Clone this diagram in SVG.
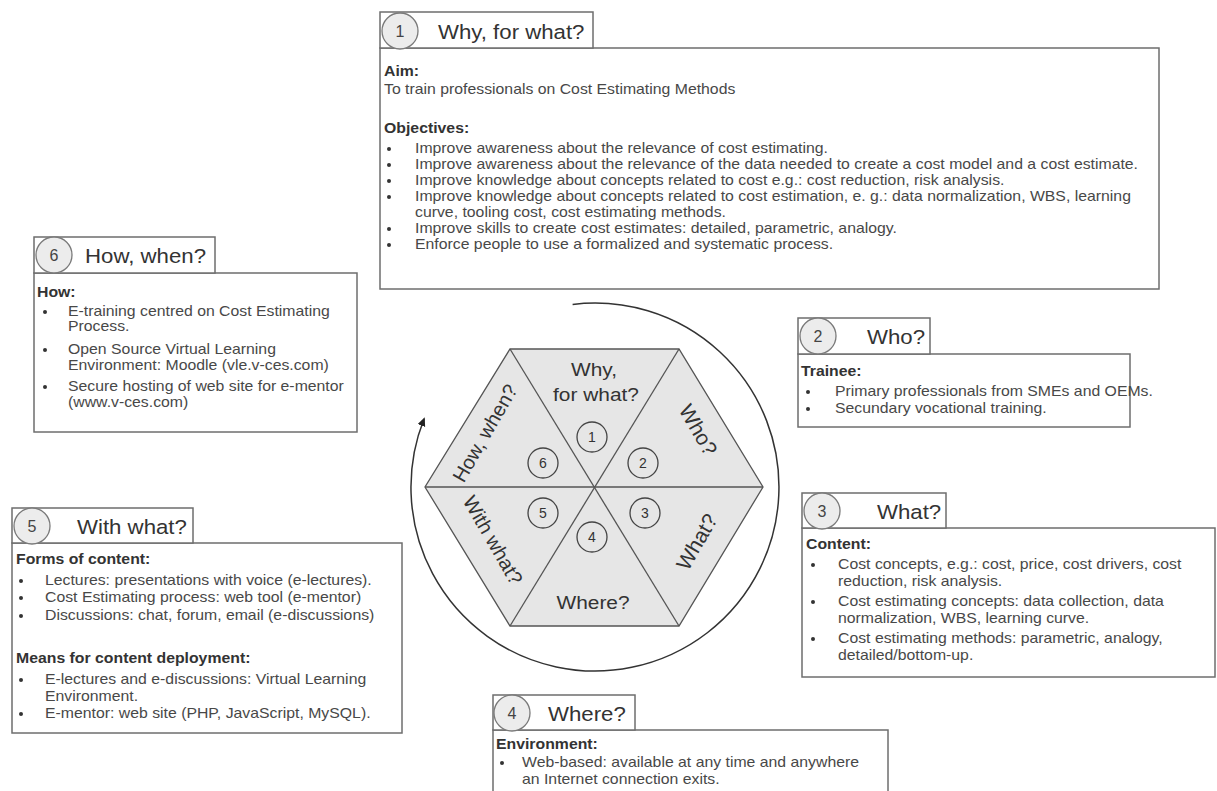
<svg xmlns="http://www.w3.org/2000/svg" width="1217" height="791" viewBox="0 0 1217 791">
<style>
.box{fill:#fff;stroke:#6e6e6e;stroke-width:1.5}
.tab{fill:#fff;stroke:#6e6e6e;stroke-width:1.5}
.num{fill:#ececec;stroke:#7a7a7a;stroke-width:1.3}
.numt{font-family:"Liberation Sans",Arial,sans-serif;font-size:16px;fill:#444;text-anchor:middle}
.title{font-family:"Liberation Sans",Arial,sans-serif;font-size:19.5px;fill:#333}
.t{font-family:"Liberation Sans",Arial,sans-serif;font-size:14px;fill:#484848}
.b{font-family:"Liberation Sans",Arial,sans-serif;font-size:14px;fill:#333;font-weight:bold}
.bul{fill:#333}
.hex{fill:#e6e6e6;stroke:#555;stroke-width:1.3}
.hl{stroke:#555;stroke-width:1.3;fill:none}
.hc{fill:none;stroke:#444;stroke-width:1.3}
.hn{font-family:"Liberation Sans",Arial,sans-serif;font-size:14px;fill:#333;text-anchor:middle}
.hlab{font-family:"Liberation Sans",Arial,sans-serif;font-size:18.5px;fill:#333;text-anchor:middle}
.rlab{font-family:"Liberation Sans",Arial,sans-serif;font-size:20px;fill:#333;text-anchor:middle}
</style>
<defs>
<marker id="ah" markerWidth="10" markerHeight="10" refX="7" refY="4" orient="auto" markerUnits="userSpaceOnUse">
<path d="M0,0 L9,4 L0,8 z" fill="#222"/>
</marker>
</defs>
<rect width="1217" height="791" fill="#fff"/>

<g id="connectors">
<path d="M 572.6 304.4 A 184 184 0 1 1 424 419" fill="none" stroke="#333" stroke-width="1.5" marker-end="url(#ah)"/>
</g>

<g id="hexagon">
<polygon class="hex" points="510,349 679,349 763,487 679,626 510,626 425,487"/>
<line class="hl" x1="510" y1="349" x2="679" y2="626"/>
<line class="hl" x1="679" y1="349" x2="510" y2="626"/>
<line class="hl" x1="425" y1="487" x2="763" y2="487"/>
<circle class="hc" cx="592" cy="437" r="15"/><text class="hn" x="592" y="442">1</text>
<circle class="hc" cx="643" cy="463" r="15"/><text class="hn" x="643" y="468">2</text>
<circle class="hc" cx="645" cy="513" r="15"/><text class="hn" x="645" y="518">3</text>
<circle class="hc" cx="592" cy="537" r="15"/><text class="hn" x="592" y="542">4</text>
<circle class="hc" cx="543" cy="513" r="15"/><text class="hn" x="543" y="518">5</text>
<circle class="hc" cx="543" cy="463" r="15"/><text class="hn" x="543" y="468">6</text>
<text class="hlab" transform="translate(594,376) scale(1.13,1)">Why,</text>
<text class="hlab" transform="translate(596,401) scale(1.13,1)">for what?</text>
<text class="hlab" transform="translate(593,609) scale(1.13,1)">Where?</text>
<text class="rlab" style="font-size:21px" transform="translate(698,430) rotate(60)" dy="7">Who?</text>
<text class="rlab" style="font-size:21px" transform="translate(697,542) rotate(-60)" dy="7">What?</text>
<text class="rlab" transform="translate(493,540) rotate(60)" dy="7">With what?</text>
<text class="rlab" transform="translate(485,433) rotate(-60)" dy="7">How, when?</text>
</g>

<g id="node1">
<rect class="box" x="380" y="48" width="779" height="241"/>
<rect class="tab" x="380" y="12" width="213" height="36"/>
<circle class="num" cx="400" cy="31" r="18"/>
<text class="numt" x="400" y="37">1</text>
<text class="title" transform="translate(438,39) scale(1.14,1)">Why, for what?</text>
<text class="b" transform="translate(384,76) scale(1.13,1)">Aim:</text>
<text class="t" transform="translate(384,94) scale(1.13,1)">To train professionals on Cost Estimating Methods</text>
<text class="b" transform="translate(384,133) scale(1.13,1)">Objectives:</text>
<circle class="bul" cx="389" cy="149" r="2"/>
<text class="t" transform="translate(415,153) scale(1.13,1)">Improve awareness about the relevance of cost estimating.</text>
<circle class="bul" cx="389" cy="165" r="2"/>
<text class="t" transform="translate(415,169) scale(1.13,1)">Improve awareness about the relevance of the data needed to create a cost model and a cost estimate.</text>
<circle class="bul" cx="389" cy="181" r="2"/>
<text class="t" transform="translate(415,185) scale(1.13,1)">Improve knowledge about concepts related to cost  e.g.: cost reduction, risk analysis.</text>
<circle class="bul" cx="389" cy="197" r="2"/>
<text class="t" transform="translate(415,201) scale(1.13,1)">Improve knowledge about concepts related to cost estimation, e. g.: data normalization, WBS, learning</text>
<text class="t" transform="translate(415,217) scale(1.13,1)">curve, tooling cost, cost estimating methods.</text>
<circle class="bul" cx="389" cy="229" r="2"/>
<text class="t" transform="translate(415,233) scale(1.13,1)">Improve skills to create cost estimates: detailed, parametric, analogy.</text>
<circle class="bul" cx="389" cy="245" r="2"/>
<text class="t" transform="translate(415,249) scale(1.13,1)">Enforce people to use a formalized and systematic process.</text>
</g>

<g id="node6">
<rect class="box" x="34" y="273" width="323" height="159"/>
<rect class="tab" x="34" y="237" width="181" height="36"/>
<circle class="num" cx="54" cy="255" r="18"/>
<text class="numt" x="54" y="261">6</text>
<text class="title" transform="translate(85,263) scale(1.14,1)">How, when?</text>
<text class="b" transform="translate(37,297) scale(1.13,1)">How:</text>
<circle class="bul" cx="45" cy="312" r="2"/>
<text class="t" transform="translate(68,316) scale(1.13,1)">E-training centred on Cost Estimating</text>
<text class="t" transform="translate(68,331) scale(1.13,1)">Process.</text>
<circle class="bul" cx="45" cy="350" r="2"/>
<text class="t" transform="translate(68,354) scale(1.13,1)">Open Source Virtual Learning</text>
<text class="t" transform="translate(68,370) scale(1.13,1)">Environment: Moodle (vle.v-ces.com)</text>
<circle class="bul" cx="45" cy="387" r="2"/>
<text class="t" transform="translate(68,391) scale(1.13,1)">Secure hosting of web site for e-mentor</text>
<text class="t" transform="translate(68,407) scale(1.13,1)">(www.v-ces.com)</text>
</g>

<g id="node2">
<rect class="box" x="798" y="354" width="332" height="73"/>
<rect class="tab" x="798" y="318" width="132" height="36"/>
<circle class="num" cx="818" cy="336" r="18"/>
<text class="numt" x="818" y="342">2</text>
<text class="title" transform="translate(867,344) scale(1.14,1)">Who?</text>
<text class="b" transform="translate(801,376) scale(1.13,1)">Trainee:</text>
<circle class="bul" cx="808" cy="392" r="2"/>
<text class="t" transform="translate(835,396) scale(1.13,1)">Primary professionals from SMEs and OEMs.</text>
<circle class="bul" cx="808" cy="409" r="2"/>
<text class="t" transform="translate(835,413) scale(1.13,1)">Secundary vocational training.</text>
</g>

<g id="node3">
<rect class="box" x="802" y="528" width="413" height="149"/>
<rect class="tab" x="802" y="493" width="144" height="35"/>
<circle class="num" cx="822" cy="511" r="18"/>
<text class="numt" x="822" y="517">3</text>
<text class="title" transform="translate(877,519) scale(1.14,1)">What?</text>
<text class="b" transform="translate(806,549) scale(1.13,1)">Content:</text>
<circle class="bul" cx="813" cy="565" r="2"/>
<text class="t" transform="translate(838,569) scale(1.13,1)">Cost concepts, e.g.: cost, price, cost drivers, cost</text>
<text class="t" transform="translate(838,586) scale(1.13,1)">reduction, risk analysis.</text>
<circle class="bul" cx="813" cy="602" r="2"/>
<text class="t" transform="translate(838,606) scale(1.13,1)">Cost estimating concepts: data collection, data</text>
<text class="t" transform="translate(838,623) scale(1.13,1)">normalization, WBS, learning curve.</text>
<circle class="bul" cx="813" cy="639" r="2"/>
<text class="t" transform="translate(838,643) scale(1.13,1)">Cost estimating methods: parametric, analogy,</text>
<text class="t" transform="translate(838,660) scale(1.13,1)">detailed/bottom-up.</text>
</g>

<g id="node5">
<rect class="box" x="12" y="543" width="390" height="190"/>
<rect class="tab" x="12" y="508" width="181" height="35"/>
<circle class="num" cx="32" cy="526" r="18"/>
<text class="numt" x="32" y="532">5</text>
<text class="title" transform="translate(77,534) scale(1.14,1)">With what?</text>
<text class="b" transform="translate(16,564) scale(1.13,1)">Forms of content:</text>
<circle class="bul" cx="21" cy="581" r="2"/>
<text class="t" transform="translate(45,585) scale(1.13,1)">Lectures: presentations with voice (e-lectures).</text>
<circle class="bul" cx="21" cy="598" r="2"/>
<text class="t" transform="translate(45,602) scale(1.13,1)">Cost Estimating process: web tool (e-mentor)</text>
<circle class="bul" cx="21" cy="616" r="2"/>
<text class="t" transform="translate(45,620) scale(1.13,1)">Discussions: chat, forum, email (e-discussions)</text>
<text class="b" transform="translate(16,663) scale(1.13,1)">Means for content deployment:</text>
<circle class="bul" cx="21" cy="680" r="2"/>
<text class="t" transform="translate(45,684) scale(1.13,1)">E-lectures and e-discussions: Virtual Learning</text>
<text class="t" transform="translate(45,701) scale(1.13,1)">Environment.</text>
<circle class="bul" cx="21" cy="714" r="2"/>
<text class="t" transform="translate(45,718) scale(1.13,1)">E-mentor: web site (PHP, JavaScript, MySQL).</text>
</g>

<g id="node4">
<rect class="box" x="493" y="730" width="395" height="80"/>
<rect class="tab" x="493" y="695" width="142" height="35"/>
<circle class="num" cx="512" cy="713" r="18"/>
<text class="numt" x="512" y="719">4</text>
<text class="title" transform="translate(548,721) scale(1.14,1)">Where?</text>
<text class="b" transform="translate(496,749) scale(1.13,1)">Environment:</text>
<circle class="bul" cx="502" cy="763" r="2"/>
<text class="t" transform="translate(522,767) scale(1.13,1)">Web-based: available at any time and anywhere</text>
<text class="t" transform="translate(522,784) scale(1.13,1)">an Internet connection exits.</text>
</g>
</svg>
